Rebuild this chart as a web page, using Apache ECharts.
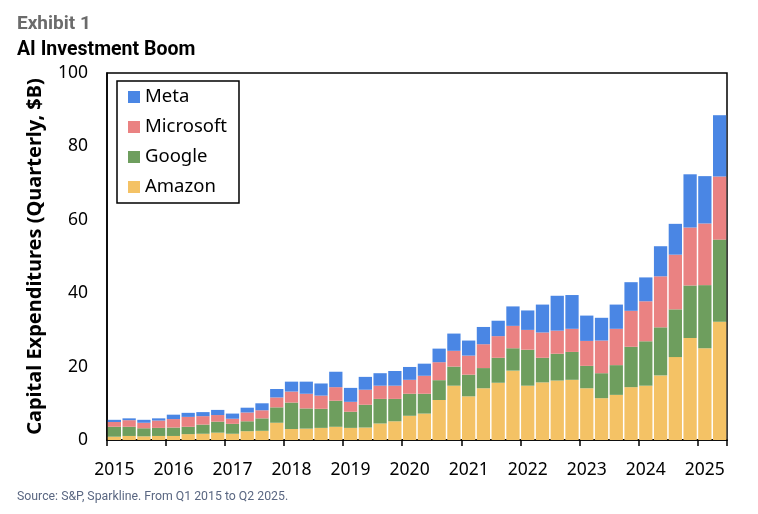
<!DOCTYPE html>
<html>
<head>
<meta charset="utf-8">
<script src="https://cdn.jsdelivr.net/npm/echarts@6/dist/echarts.min.js"></script>
<style>
html,body{margin:0;padding:0;background:#fff;}
#chart{width:758px;height:514px;}
</style>
</head>
<body>
<div id="chart"></div>
<script>
const years = ['2015','2016','2017','2018','2019','2020','2021','2022','2023','2024','2025'];
const quarters = ['Q1','Q2','Q3','Q4'];
const categories = [];
years.forEach(y => quarters.forEach(q => { if (categories.length < 42) categories.push(q + ' ' + y); }));

const amazon = [0.9,1.1,1.0,1.1, 1.1,1.6,1.7,2.0, 1.7,2.4,2.5,4.7, 3.0,3.1,3.3,3.6, 3.3,3.4,4.5,5.1, 6.6,7.2,10.9,14.8, 11.9,14.1,15.6,18.9, 14.8,15.7,16.2,16.4, 14.1,11.4,12.3,14.4, 14.8,17.6,22.6,27.8, 25.0,32.2];
const google = [2.7,2.5,2.2,2.2, 2.3,2.0,2.5,3.0, 2.7,2.7,3.4,4.2, 7.2,5.5,5.2,7.1, 4.4,6.2,6.7,6.1, 6.0,5.4,5.4,5.2, 5.9,5.5,6.8,6.1, 9.8,6.7,7.3,7.6, 6.1,6.8,8.1,11.0, 12.1,13.1,13.0,14.3, 17.2,22.4];
const microsoft = [1.3,1.8,1.5,2.0, 2.3,2.7,2.3,1.8, 1.4,2.4,2.2,2.7, 3.0,4.0,3.6,3.7, 2.7,4.1,3.6,3.6, 3.8,4.9,4.9,4.3, 5.2,6.5,5.9,6.1, 5.4,6.9,6.3,6.3, 6.8,8.9,9.9,9.8, 10.9,13.9,14.9,15.8, 16.8,17.2];
const meta = [0.6,0.5,0.8,0.6, 1.2,1.1,1.1,1.4, 1.4,1.3,1.9,2.3, 2.7,3.3,3.3,4.2, 3.8,3.5,3.4,4.0, 3.5,3.3,3.7,4.7, 4.1,4.7,4.2,5.3, 5.3,7.6,9.5,9.2, 6.9,6.2,6.6,7.8, 6.5,8.2,8.4,14.5, 12.9,16.7];

const colors = {Meta:'#4a86e4', Microsoft:'#ea8282', Google:'#6e9e5e', Amazon:'#f4c265'};
const axisFont = 'Noto Sans';

const chart = echarts.init(document.getElementById('chart'), null, {renderer:'canvas'});

function bar(name, data){
  return {
    name, type:'bar', stack:'capex', data,
    barCategoryGap:'10%',
    itemStyle:{color:colors[name]},
    emphasis:{disabled:true}
  };
}

chart.setOption({
  animation:false,
  backgroundColor:'#fff',
  title:[
    {text:'Exhibit 1', left:12, top:10, textStyle:{fontFamily:'Roboto', fontWeight:'bold', fontSize:19, color:'#6b6b6b'}},
    {text:'AI Investment Boom', left:12, top:35, textStyle:{fontFamily:'Roboto', fontWeight:'bold', fontSize:19.5, color:'#000'}},
    {text:'Source: S&P, Sparkline. From Q1 2015 to Q2 2025.', left:12, top:486, textStyle:{fontFamily:'Roboto', fontWeight:'normal', fontSize:12.3, color:'#5a6782'}}
  ],
  legend:{
    orient:'vertical', left:117, top:81,
    data:['Meta','Microsoft','Google','Amazon'],
    itemWidth:12, itemHeight:12, itemGap:10,
    icon:'rect',
    padding:[6,12,6,11],
    borderColor:'#000', borderWidth:1.5,
    selectedMode:false,
    textStyle:{fontFamily:axisFont, fontSize:18.5, color:'#000', lineHeight:20}
  },
  grid:{left:107, right:31, top:73, bottom:74, show:true, borderColor:'#000', borderWidth:1.5, containLabel:false},
  xAxis:{
    type:'category', data:categories, boundaryGap:true,
    axisLine:{lineStyle:{color:'#000', width:1.5}},
    axisTick:{show:true, length:6, interval:(i)=> i % 4 === 0, lineStyle:{color:'#000', width:1.5}},
    axisLabel:{interval:(i)=> i % 4 === 0, formatter:(v)=> v.split(' ')[1], fontFamily:axisFont, fontSize:17.5, color:'#000', margin:21}
  },
  yAxis:{
    type:'value', min:0, max:100, interval:20,
    name:'Capital Expenditures (Quarterly, $B)', nameLocation:'middle', nameGap:62,
    nameTextStyle:{fontFamily:axisFont, fontWeight:'bold', fontSize:20, color:'#000'},
    axisLine:{show:true, lineStyle:{color:'#000', width:1.5}},
    axisTick:{show:false},
    splitLine:{show:false},
    axisLabel:{fontFamily:axisFont, fontSize:17.5, color:'#000', margin:19}
  },
  series:[bar('Amazon', amazon), bar('Google', google), bar('Microsoft', microsoft), bar('Meta', meta)]
});
</script>
</body>
</html>
